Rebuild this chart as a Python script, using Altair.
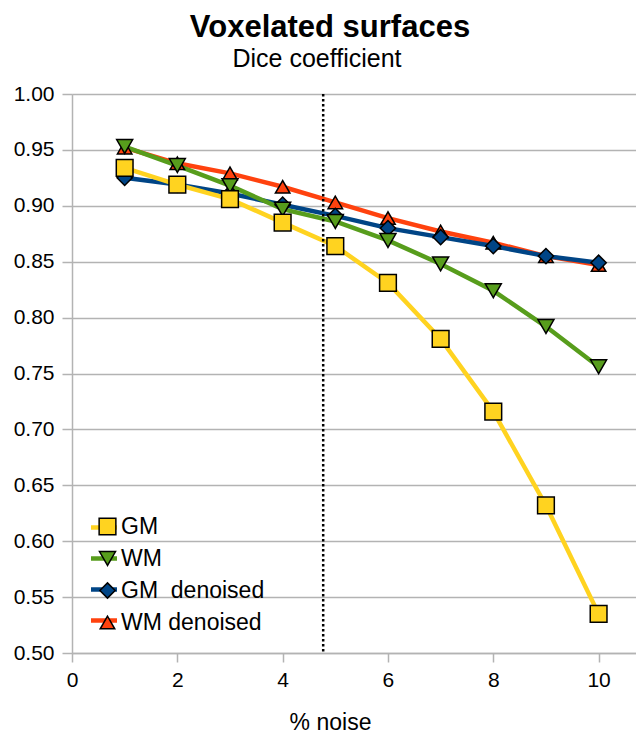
import altair as alt
import pandas as pd

# ---- data ----
noise = [1, 2, 3, 4, 5, 6, 7, 8, 9, 10]
gm = [0.934, 0.919, 0.906, 0.885, 0.864, 0.831, 0.781, 0.716, 0.632, 0.535]
wm = [0.953, 0.936, 0.918, 0.897, 0.886, 0.869, 0.848, 0.824, 0.792, 0.756]
gm_denoised = [0.925, 0.919, 0.911, 0.901, 0.891, 0.880, 0.872, 0.864, 0.855, 0.849]
wm_denoised = [0.952, 0.938, 0.929, 0.917, 0.903, 0.889, 0.877, 0.867, 0.855, 0.847]

series_names = ["GM", "WM", "GM\u00a0 denoised", "WM denoised"]
series_values = [gm, wm, gm_denoised, wm_denoised]
series_colors = ["#ffd320", "#579d1c", "#004586", "#ff420e"]
series_shapes = ["square", "triangle-down", "diamond", "triangle-up"]
series_sizes = [280, 210, 230, 210]
draw_order = [3, 2, 1, 0]  # higher = drawn later (on top)

threshold = [4.77]
x_ticks = [0, 2, 4, 6, 8, 10]
y_ticks = [0.50, 0.55, 0.60, 0.65, 0.70, 0.75, 0.80, 0.85, 0.90, 0.95, 1.00]
subtitle = ["Dice coefficient"]

# line-legend keys carry a zero-width marker so the two legends stay separate
line_names = [n + "\u200b" for n in series_names]

rows = []
for name, lname, vals, z in zip(series_names, line_names, series_values, draw_order):
    for x, v in zip(noise, vals):
        rows.append({"noise": x, "dice": v, "series": name, "series_line": lname, "z": z})
df = pd.DataFrame(rows).sort_values(["z", "noise"]).reset_index(drop=True)

FONT = "Liberation Sans"
GRID = "#b3b3b3"

x_scale = alt.Scale(domain=[0, 10.71], nice=False, zero=False)
y_scale = alt.Scale(domain=[0.5, 1.0], nice=False, zero=False)

x_enc = alt.X(
    "noise:Q",
    scale=x_scale,
    axis=alt.Axis(
        values=x_ticks, grid=False, title="% noise", titleFontSize=23,
        titleFontWeight="normal", titleFont=FONT, titleColor="black",
        titlePadding=21, titleX=258, labelFontSize=21, labelFont=FONT,
        labelColor="black", labelPadding=7, tickSize=9, tickColor=GRID,
        domainColor=GRID, domainWidth=1.5, tickWidth=1.5, labelFlush=False,
        labelOverlap=False,
    ),
)
y_enc = alt.Y(
    "dice:Q",
    scale=y_scale,
    axis=alt.Axis(
        values=y_ticks, format=".2f", title=None, grid=True, gridColor=GRID,
        gridWidth=1.5, labelFontSize=21, labelFont=FONT, labelColor="black",
        labelPadding=8, tickSize=10, tickColor=GRID, tickWidth=1.5,
        domainColor=GRID, domainWidth=1.5, labelOverlap=False, labelFlush=False,
    ),
)

lines = alt.Chart(df).mark_line(strokeWidth=4.5).encode(
    x=x_enc,
    y=y_enc,
    stroke=alt.Stroke(
        "series_line:N",
        scale=alt.Scale(domain=line_names, range=series_colors),
        legend=alt.Legend(
            title=None, orient="none", legendX=16.5, legendY=418, padding=0,
            symbolType="stroke", symbolSize=676, symbolStrokeWidth=4.5,
            labelFontSize=23, labelFont=FONT, labelExpr="''", rowPadding=3,
            labelOffset=1,
        ),
    ),
    detail="series:N",
)

shape_legend = alt.Legend(
    title=None, orient="none", legendX=24, legendY=421, padding=0,
    symbolSize=200, symbolStrokeColor="black", symbolStrokeWidth=1.5,
    labelFontSize=23, labelFont=FONT, labelColor="black", rowPadding=8,
    labelOffset=2,
)

points = alt.Chart(df).mark_point(
    filled=True, opacity=1, stroke="black", strokeWidth=1.5
).encode(
    x=alt.X("noise:Q", scale=x_scale),
    y=alt.Y("dice:Q", scale=y_scale),
    color=alt.Color(
        "series:N",
        scale=alt.Scale(domain=series_names, range=series_colors),
        legend=shape_legend,
    ),
    shape=alt.Shape(
        "series:N",
        scale=alt.Scale(domain=series_names, range=series_shapes),
        legend=shape_legend,
    ),
    size=alt.Size(
        "series:N",
        scale=alt.Scale(domain=series_names, range=series_sizes),
        legend=None,
    ),
    order=alt.Order("z:Q"),
)

rule = alt.Chart(pd.DataFrame({"t": threshold})).mark_rule(
    color="black", strokeWidth=2.5, strokeDash=[2.5, 2.5]
).encode(
    x=alt.X("t:Q", scale=x_scale),
    y=alt.value(0),
    y2=alt.value(559),
)

sub = alt.Chart(pd.DataFrame({"label": subtitle})).mark_text(
    font=FONT, fontSize=25, color="black", align="center", baseline="alphabetic"
).encode(
    text="label:N",
    x=alt.value(245),
    y=alt.value(-27),
)

chart = alt.layer(lines, rule, points, sub).properties(
    width=564,
    height=559,
    padding={"left": 64, "top": 86, "right": 0, "bottom": 81},
    autosize=alt.AutoSizeParams(type="none"),
    title=alt.TitleParams(
        text="Voxelated surfaces",
        font=FONT, fontSize=31, fontWeight="bold", color="black",
        anchor="middle", dx=-24, offset=3,
    ),
).configure_view(stroke=None).configure(background="white")

chart.save("out.html", embed_options={"renderer": "svg", "actions": False})
